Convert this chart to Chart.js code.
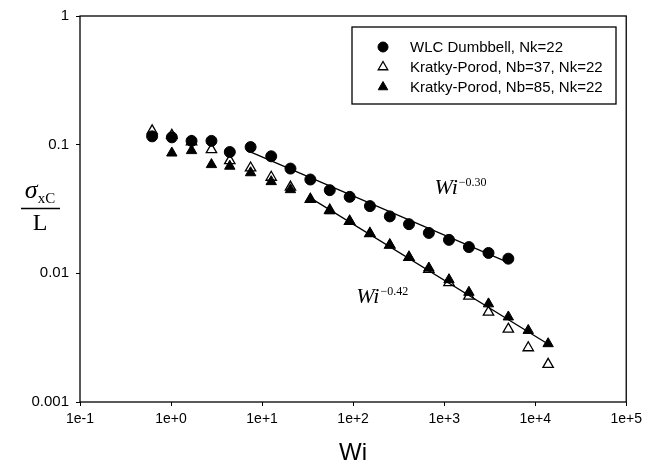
<!DOCTYPE html>
<html>
<head>
<meta charset="utf-8">
<title>sigma_xC / L versus Wi</title>
<script src="https://cdn.jsdelivr.net/npm/chart.js@4.4.1/dist/chart.umd.min.js"></script>
<style>
	html, body { margin: 0; padding: 0; background: #fff; }
	#Chart_Wrap { width: 647px; height: 473px; }
</style>
</head>
<body>
<div id="Chart_Wrap"><canvas id="Chart_Sigma" width="647" height="473"></canvas></div>
<script>

// Weissenberg numbers shared by all three series
const wi_values = [0.62, 1.02, 1.68, 2.78, 4.42, 7.48, 12.6, 20.5, 33.9, 55.4, 91.6, 153, 253, 411, 679, 1130, 1870, 3070, 5070, 8390, 13870];

// sigma_xC / L, null where the series has no point
const wlc_sigma = [0.116, 0.114, 0.107, 0.107, 0.0877, 0.0958, 0.0812, 0.0652, 0.0536, 0.0443, 0.0393, 0.0333, 0.0277, 0.0241, 0.0206, 0.0182, 0.0160, 0.0144, 0.0130, null, null];
const kp37_sigma = [0.128, 0.118, 0.105, 0.0915, 0.0752, 0.0659, 0.0558, 0.0468, 0.0376, 0.031, 0.0254, 0.0204, 0.0166, 0.0133, 0.01076, 0.00846, 0.00665, 0.00499, 0.00368, 0.00264, 0.00196];
const kp85_sigma = [null, 0.0861, 0.0899, 0.070, 0.068, 0.0605, 0.0516, 0.0447, 0.0376, 0.0306, 0.0254, 0.0204, 0.0166, 0.0133, 0.0110, 0.00893, 0.00712, 0.00579, 0.00458, 0.00360, 0.00284];

// power law fit lines (end points)
const fit_wlc_wi = [6.9, 5100];
const fit_wlc_sigma = [0.090, 0.0121];
const fit_kp_wi = [33.9, 14700];
const fit_kp_sigma = [0.0386, 0.00275];

const series_labels = ['WLC Dumbbell, Nk=22', 'Kratky-Porod, Nb=37, Nk=22', 'Kratky-Porod, Nb=85, Nk=22'];

const x_tick_values = [0.1, 1, 10, 100, 1000, 10000, 100000];
const x_tick_labels = ['1e-1', '1e+0', '1e+1', '1e+2', '1e+3', '1e+4', '1e+5'];
const y_tick_values = [0.001, 0.01, 0.1, 1];
const y_tick_labels = ['0.001', '0.01', '0.1', '1'];

// slope annotations: [base, exponent, Wi, sigma]
const fit_notes = [
	['Wi', '\u22120.30', 784, 0.0413],
	['Wi', '\u22120.42', 108, 0.00593]
];

window.onload = init;

function make_points(xs, ys) {
	const points = [];
	let idx = 0;
	while(idx < xs.length) {
		if(ys[idx] !== null) points.push({ x: xs[idx], y: ys[idx] });
		idx++;
	}
	return points;
}

//=============================================================================================================================

const frame_plugin = {
	id: 'frame',
	beforeDatasetsDraw(chart) {
		const a = chart.chartArea;
		const ctx = chart.ctx;
		ctx.save();
		ctx.strokeStyle = '#000';
		ctx.lineWidth = 1.3;
		ctx.strokeRect(a.left, a.top, a.right - a.left, a.bottom - a.top);
		ctx.restore();
	}
};

const y_title_plugin = {
	id: 'y_title',
	afterDraw(chart) {
		const ctx = chart.ctx;
		const cx = 40;
		ctx.save();
		ctx.fillStyle = '#000';
		ctx.strokeStyle = '#000';
		ctx.textBaseline = 'alphabetic';

		ctx.font = 'italic 26px "Liberation Serif"';
		const w_sig = ctx.measureText('\u03c3').width;
		ctx.font = '15px "Liberation Serif"';
		const w_sub = ctx.measureText('xC').width;
		const x0 = cx - (w_sig + w_sub) / 2;

		ctx.textAlign = 'left';
		ctx.font = 'italic 26px "Liberation Serif"';
		ctx.fillText('\u03c3', x0, 198);
		ctx.font = '15px "Liberation Serif"';
		ctx.fillText('xC', x0 + w_sig, 203);

		ctx.lineWidth = 1.3;
		ctx.beginPath();
		ctx.moveTo(21, 208.5);
		ctx.lineTo(60, 208.5);
		ctx.stroke();

		ctx.textAlign = 'center';
		ctx.font = '24px "Liberation Serif"';
		ctx.fillText('L', cx, 230);
		ctx.restore();
	}
};

const fit_notes_plugin = {
	id: 'fit_notes',
	afterDatasetsDraw(chart) {
		const ctx = chart.ctx;
		const xs = chart.scales.x;
		const ys = chart.scales.y;
		ctx.save();
		ctx.fillStyle = '#000';
		ctx.textAlign = 'left';
		ctx.textBaseline = 'alphabetic';
		fit_notes.forEach(function(note) {
			const px = xs.getPixelForValue(note[2]);
			const py = ys.getPixelForValue(note[3]);
			ctx.font = 'italic 22px "Liberation Serif"';
			ctx.fillText(note[0], px, py);
			const w = ctx.measureText(note[0]).width;
			ctx.font = '12px "Liberation Serif"';
			ctx.fillText(note[1], px + w + 1, py - 8);
		});
		ctx.restore();
	}
};

const legend_plugin = {
	id: 'legend_box',
	afterDatasetsDraw(chart) {
		const ctx = chart.ctx;
		const box = { left: 352, top: 27, right: 616, bottom: 104 };
		ctx.save();
		ctx.fillStyle = '#fff';
		ctx.fillRect(box.left, box.top, box.right - box.left, box.bottom - box.top);
		ctx.strokeStyle = '#000';
		ctx.lineWidth = 1.3;
		ctx.strokeRect(box.left, box.top, box.right - box.left, box.bottom - box.top);

		ctx.font = '15px "Liberation Sans"';
		ctx.textAlign = 'left';
		ctx.textBaseline = 'middle';

		let row = 0;
		chart.data.datasets.forEach(function(ds) {
			if(ds.in_legend === false) return;
			const y = 47 + row * 20;
			ctx.fillStyle = ds.backgroundColor;
			ctx.strokeStyle = ds.borderColor;
			ctx.lineWidth = ds.borderWidth;
			Chart.helpers.drawPoint(ctx, {
				pointStyle: ds.pointStyle,
				radius: ds.pointRadius - 0.5,
				rotation: 0,
				borderWidth: ds.borderWidth
			}, 383, y);
			ctx.fillStyle = '#000';
			ctx.fillText(ds.label, 410, y + 1);
			row++;
		});
		ctx.restore();
	}
};

//=============================================================================================================================

function init() {

	const chart_ctx = document.getElementById('Chart_Sigma').getContext('2d');

	const chart_data = {
		datasets: [{
				label: series_labels[0],
				data: make_points(wi_values, wlc_sigma),
				pointStyle: 'circle',
				pointRadius: 5.5,
				backgroundColor: '#000',
				borderColor: '#000',
				borderWidth: 1,
				order: 1
			}, {
				label: series_labels[1],
				data: make_points(wi_values, kp37_sigma),
				pointStyle: 'triangle',
				pointRadius: 6,
				backgroundColor: '#fff',
				borderColor: '#000',
				borderWidth: 1.3,
				order: 3
			}, {
				label: series_labels[2],
				data: make_points(wi_values, kp85_sigma),
				pointStyle: 'triangle',
				pointRadius: 6,
				backgroundColor: '#000',
				borderColor: '#000',
				borderWidth: 1,
				order: 2
			}, {
				label: 'fit WLC',
				in_legend: false,
				data: make_points(fit_wlc_wi, fit_wlc_sigma),
				showLine: true,
				pointRadius: 0,
				borderColor: '#000',
				borderWidth: 1.3,
				order: 0
			}, {
				label: 'fit KP',
				in_legend: false,
				data: make_points(fit_kp_wi, fit_kp_sigma),
				showLine: true,
				pointRadius: 0,
				borderColor: '#000',
				borderWidth: 1.3,
				order: 0
			}
		]
	};

	const options = {
		responsive: false,
		animation: false,
		devicePixelRatio: 1,
		layout: {
			padding: { top: 14, right: 17, left: 0, bottom: 0 }
		},
		plugins: {
			legend: { display: false },
			tooltip: { enabled: false }
		},
		scales: {
			x: {
				type: 'logarithmic',
				position: 'bottom',
				min: 0.1,
				max: 100000,
				afterBuildTicks: function(scale) {
					scale.ticks = x_tick_values.map(v => ({ value: v }));
				},
				afterFit: function(scale) { scale.height = 71; },
				ticks: {
					callback: function(value, index) { return x_tick_labels[index]; },
					color: '#000',
					font: { family: 'Liberation Sans', size: 14 },
					padding: 5,
					maxRotation: 0,
					autoSkip: false
				},
				grid: { drawOnChartArea: false, drawTicks: true, tickLength: 4, color: '#000', lineWidth: 1 },
				border: { display: false },
				title: {
					display: true,
					text: 'Wi',
					color: '#000',
					font: { family: 'Liberation Sans', size: 24 },
					padding: { top: 0, bottom: 5 }
				}
			},
			y: {
				type: 'logarithmic',
				position: 'left',
				min: 0.001,
				max: 1,
				afterBuildTicks: function(scale) {
					scale.ticks = y_tick_values.map(v => ({ value: v }));
				},
				afterFit: function(scale) { scale.width = 80; },
				ticks: {
					callback: function(value, index) { return y_tick_labels[index]; },
					color: '#000',
					font: { family: 'Liberation Sans', size: 15 },
					padding: 7,
					autoSkip: false
				},
				grid: { drawOnChartArea: false, drawTicks: true, tickLength: 4, color: '#000', lineWidth: 1 },
				border: { display: false }
			}
		}
	};

	const config = {
		type: 'scatter',
		data: chart_data,
		options: options,
		plugins: [frame_plugin, fit_notes_plugin, legend_plugin, y_title_plugin]
	};

	new Chart(chart_ctx, config);
}
</script>
</body>
</html>
